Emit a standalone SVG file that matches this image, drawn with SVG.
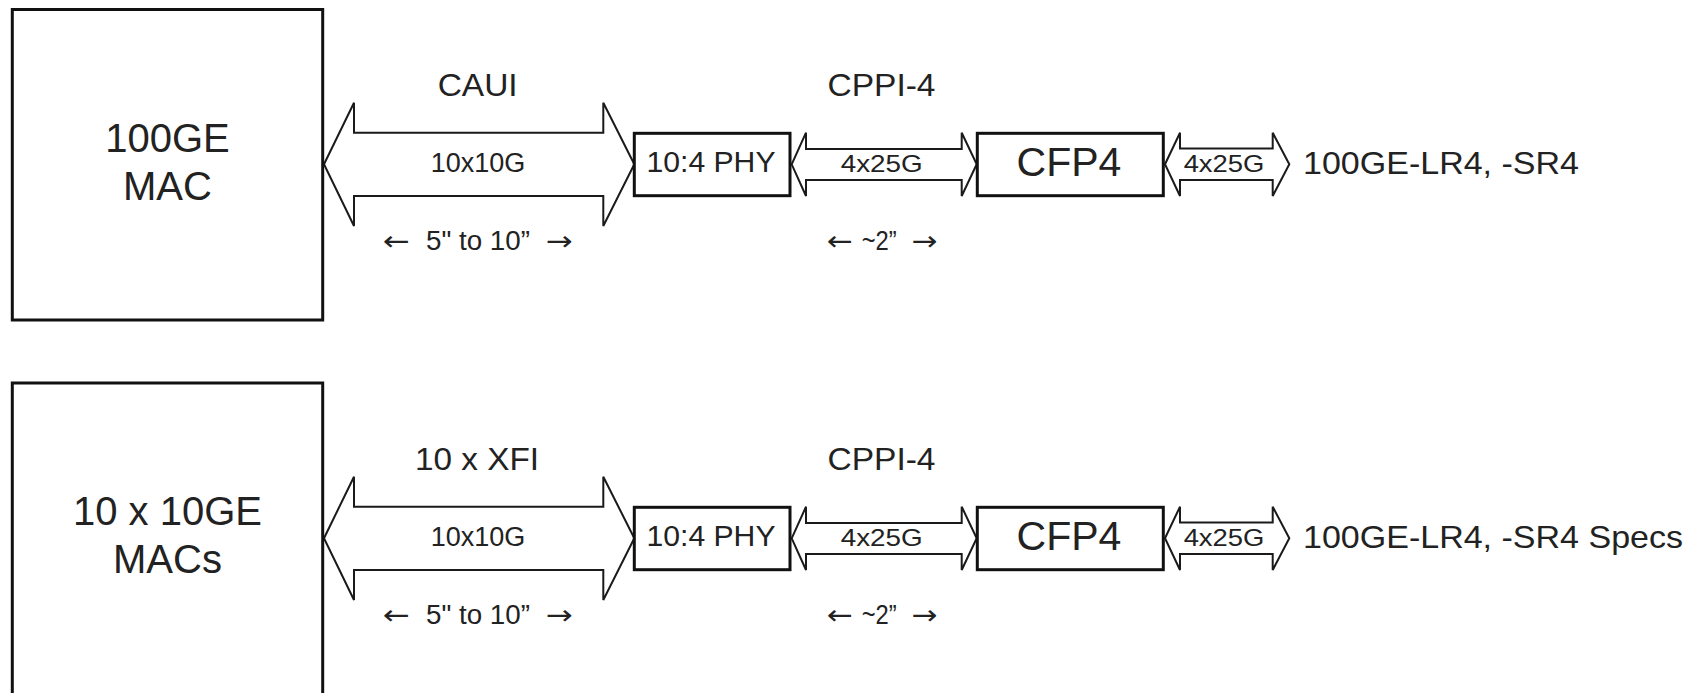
<svg xmlns="http://www.w3.org/2000/svg" xmlns:xlink="http://www.w3.org/1999/xlink" width="1694" height="693" viewBox="0 0 1694 693">
<style>
.box{fill:#fff;stroke:#111;stroke-width:3}
.arr{fill:#fff;stroke:#1a1a1a;stroke-width:2;stroke-linejoin:miter}
text{font-family:"Liberation Sans",Arial,sans-serif;fill:#222}
.big{font-size:40px;text-anchor:middle}
.cfp{font-size:41px;text-anchor:middle}
.phy{font-size:29px;text-anchor:middle}
.lbl{font-size:31px;text-anchor:middle}
.bw{font-size:27px;text-anchor:middle}
.sm{font-size:24px;text-anchor:middle}
.dim{font-size:27px}
.da{font-size:27px;font-family:"DejaVu Sans","Liberation Sans",sans-serif}
.out{font-size:32px}
</style>
<defs>
<path id="bigArrow" d="M324,164.3 L354,102.7 L354,132.7 L603.3,132.7 L603.3,102.7 L634.3,164.3 L603.3,226 L603.3,196 L354,196 L354,226 Z"/>
<path id="smArrow1" d="M791.7,164.3 L806,132.7 L806,149 L961.7,149 L961.7,132.7 L976.7,164.3 L961.7,196 L961.7,180 L806,180 L806,196 Z"/>
<path id="smArrow2" d="M1165,164.3 L1180,132.7 L1180,148.5 L1272.7,148.5 L1272.7,132.7 L1289.3,164.3 L1272.7,196 L1272.7,180 L1180,180 L1180,196 Z"/>
</defs>

<g id="connectors">
<use xlink:href="#bigArrow" class="arr"/>
<use xlink:href="#smArrow1" class="arr"/>
<use xlink:href="#smArrow2" class="arr"/>
<use xlink:href="#bigArrow" class="arr" transform="translate(0,374)"/>
<use xlink:href="#smArrow1" class="arr" transform="translate(0,374)"/>
<use xlink:href="#smArrow2" class="arr" transform="translate(0,374)"/>
</g>

<g id="mac100">
<rect class="box" x="12.3" y="9.5" width="310.4" height="310.5"/>
<text class="big" x="167.5" y="152">100GE</text>
<text class="big" x="167.5" y="200">MAC</text>
</g>
<g id="phy1">
<rect class="box" x="634.3" y="133.3" width="155.7" height="62.4"/>
<text class="phy" x="711" y="172.3" textLength="129" lengthAdjust="spacingAndGlyphs">10:4 PHY</text>
</g>
<g id="cfp1">
<rect class="box" x="977.3" y="133.3" width="186" height="62.4"/>
<text class="cfp" x="1069" y="176">CFP4</text>
</g>

<g id="mac10x10">
<rect class="box" x="12.3" y="383" width="310.4" height="313"/>
<text class="big" x="167.5" y="525">10 x 10GE</text>
<text class="big" x="167.5" y="573.3">MACs</text>
</g>
<g id="phy2">
<rect class="box" x="634.3" y="507.3" width="155.7" height="62.4"/>
<text class="phy" x="711" y="546.3" textLength="129" lengthAdjust="spacingAndGlyphs">10:4 PHY</text>
</g>
<g id="cfp2">
<rect class="box" x="977.3" y="507.3" width="186" height="62.4"/>
<text class="cfp" x="1069" y="550">CFP4</text>
</g>

<g id="labels">
<text class="lbl" x="477.7" y="96" textLength="80" lengthAdjust="spacingAndGlyphs">CAUI</text>
<text class="bw" x="478" y="171.7">10x10G</text>
<text class="da" x="382.7" y="250" textLength="27" lengthAdjust="spacingAndGlyphs">←</text>
<text class="dim" x="426" y="250" textLength="104" lengthAdjust="spacingAndGlyphs">5" to 10”</text>
<text class="da" x="546" y="250" textLength="27" lengthAdjust="spacingAndGlyphs">→</text>
<text class="lbl" x="881.5" y="96" textLength="108" lengthAdjust="spacingAndGlyphs">CPPI-4</text>
<text class="sm" x="881.7" y="171.7" textLength="82" lengthAdjust="spacingAndGlyphs">4x25G</text>
<text class="da" x="826.7" y="250" textLength="26" lengthAdjust="spacingAndGlyphs">←</text>
<text class="dim" x="861.7" y="250" textLength="35" lengthAdjust="spacingAndGlyphs">~2”</text>
<text class="da" x="911.7" y="250" textLength="26" lengthAdjust="spacingAndGlyphs">→</text>
<text class="sm" x="1224" y="171.7" textLength="80.7" lengthAdjust="spacingAndGlyphs">4x25G</text>
<text class="out" x="1303" y="174" textLength="276" lengthAdjust="spacingAndGlyphs">100GE-LR4, -SR4</text>

<text class="lbl" x="477" y="470" textLength="124" lengthAdjust="spacingAndGlyphs">10 x XFI</text>
<text class="bw" x="478" y="545.7">10x10G</text>
<text class="da" x="382.7" y="623.5" textLength="27" lengthAdjust="spacingAndGlyphs">←</text>
<text class="dim" x="426" y="623.5" textLength="104" lengthAdjust="spacingAndGlyphs">5" to 10”</text>
<text class="da" x="546" y="623.5" textLength="27" lengthAdjust="spacingAndGlyphs">→</text>
<text class="lbl" x="881.5" y="470" textLength="108" lengthAdjust="spacingAndGlyphs">CPPI-4</text>
<text class="sm" x="881.7" y="545.7" textLength="82" lengthAdjust="spacingAndGlyphs">4x25G</text>
<text class="da" x="826.7" y="623.5" textLength="26" lengthAdjust="spacingAndGlyphs">←</text>
<text class="dim" x="861.7" y="623.5" textLength="35" lengthAdjust="spacingAndGlyphs">~2”</text>
<text class="da" x="911.7" y="623.5" textLength="26" lengthAdjust="spacingAndGlyphs">→</text>
<text class="sm" x="1224" y="545.7" textLength="80.7" lengthAdjust="spacingAndGlyphs">4x25G</text>
<text class="out" x="1303" y="548" textLength="380" lengthAdjust="spacingAndGlyphs">100GE-LR4, -SR4 Specs</text>
</g>
</svg>
